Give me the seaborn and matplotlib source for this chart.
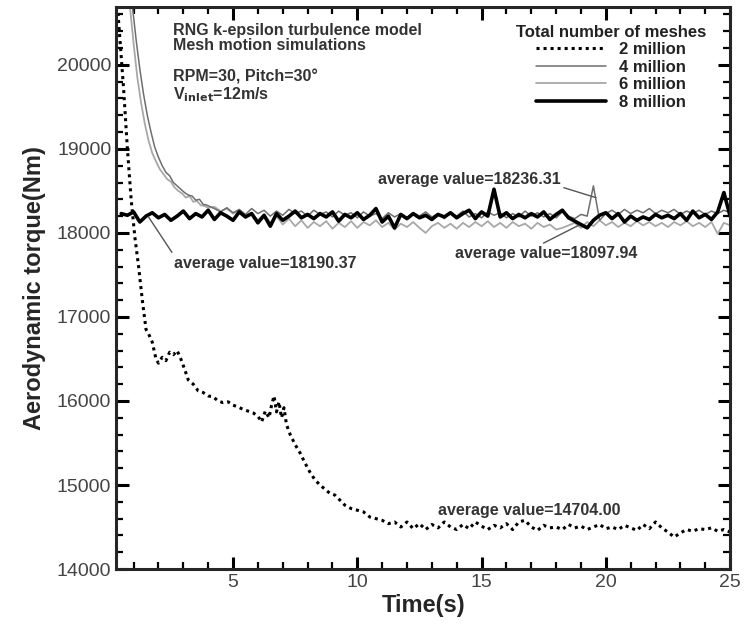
import numpy as np
import pandas as pd
import matplotlib
matplotlib.use("Agg")
import matplotlib.pyplot as plt
import seaborn as sns
from matplotlib.ticker import MultipleLocator

# ---- datos ----
series_labels = ["2 million", "4 million", "6 million", "8 million"]

# 2 millones (punteada)
t_2m = [0.3, 0.45, 0.6, 0.75, 0.9, 1.05, 1.2, 1.35, 1.5, 1.6,
        1.75, 1.9, 2.0, 2.15, 2.3, 2.45, 2.6, 2.75, 2.9, 3.05,
        3.2, 3.4, 3.6, 3.8, 4.0, 4.2, 4.4, 4.6, 4.8, 5.0,
        5.2, 5.4, 5.6, 5.8, 6.0, 6.15, 6.3, 6.45, 6.55, 6.65,
        6.75, 6.85, 6.95, 7.05, 7.15, 7.3, 7.5, 7.7, 7.9, 8.1,
        8.3, 8.5, 8.7, 8.9, 9.1, 9.3, 9.5, 9.75, 10.0, 10.25,
        10.5, 10.75, 11.0, 11.25, 11.5, 11.75, 12.0, 12.25, 12.5, 12.75,
        13.0, 13.25, 13.5, 13.75, 14.0, 14.25, 14.5, 14.75, 15.0, 15.25,
        15.5, 15.75, 16.0, 16.25, 16.5, 16.75, 17.0, 17.25, 17.5, 17.75,
        18.0, 18.25, 18.5, 18.75, 19.0, 19.25, 19.5, 19.75, 20.0, 20.25,
        20.5, 20.75, 21.0, 21.25, 21.5, 21.75, 22.0, 22.25, 22.5, 22.75,
        23.0, 23.25, 23.5, 23.75, 24.0, 24.25, 24.5, 24.75, 25.0]
torque_2m = [20900, 20300, 19700, 19000, 18400, 17950, 17600, 17200, 16850, 16800,
             16700, 16500, 16450, 16520, 16480, 16580, 16550, 16600, 16500, 16380,
             16250, 16200, 16120, 16100, 16060, 16050, 16000, 15980, 15990, 15950,
             15930, 15900, 15880, 15860, 15820, 15750, 15880, 15800, 15950, 16060,
             15870, 15990, 15800, 15920, 15720, 15600, 15480, 15380, 15260, 15150,
             15060, 15000, 14950, 14900, 14880, 14820, 14760, 14720, 14700, 14680,
             14620, 14600, 14580, 14540, 14560, 14500, 14560, 14480, 14540, 14470,
             14530, 14490, 14560, 14500, 14470, 14530, 14480, 14560, 14510, 14470,
             14520, 14490, 14540, 14470, 14560, 14580, 14500, 14460, 14520, 14490,
             14500, 14470, 14530, 14490, 14510, 14470, 14500, 14530, 14480, 14500,
             14470, 14520, 14490, 14460, 14530, 14480, 14560, 14490, 14440, 14380,
             14430, 14470, 14450, 14480, 14470, 14490, 14450, 14470, 14440]

# transitorio inicial de 4 y 6 millones
t_4m_ini = [0.95, 1.1, 1.25, 1.4, 1.55, 1.7, 1.85, 2.0, 2.15, 2.3,
            2.45, 2.6, 2.75, 2.9, 3.05, 3.2, 3.35, 3.5, 3.65, 3.8, 3.95]
torque_4m_ini = [20700, 20300, 19950, 19650, 19400, 19200, 19020, 18900, 18800, 18720,
                 18680, 18600, 18560, 18520, 18480, 18450, 18440, 18390, 18400, 18340, 18330]
t_6m_ini = [0.85, 1.0, 1.15, 1.3, 1.45, 1.6, 1.75, 1.9, 2.05, 2.2, 2.35,
            2.5, 2.65, 2.8, 2.95, 3.1, 3.25, 3.4, 3.55, 3.7, 3.85, 4.0]
torque_6m_ini = [20700, 20250, 19850, 19550, 19300, 19100, 18950, 18850, 18760, 18700, 18640,
                 18610, 18540, 18500, 18470, 18420, 18440, 18370, 18380, 18330, 18320, 18300]

# tramo estacionario 4.25 - 25 s (paso 0.25 s)
t_est = np.arange(4.25, 25.01, 0.25)
torque_4m_est = [18290, 18250, 18300, 18240, 18280, 18220, 18290, 18230, 18270, 18200,
                 18260, 18210, 18280, 18230, 18260, 18200, 18270, 18220, 18250, 18190,
                 18260, 18210, 18240, 18180, 18250, 18200, 18230, 18170, 18240, 18190,
                 18230, 18180, 18240, 18200, 18250, 18190, 18230, 18170, 18240, 18200,
                 18260, 18190, 18230, 18180, 18250, 18210, 18240, 18180, 18230, 18190,
                 18260, 18200, 18240, 18190, 18230, 18180, 18250, 18200, 18170, 18220,
                 18200, 18560, 18150, 18230, 18270, 18220, 18280, 18230, 18270, 18240,
                 18290, 18230, 18270, 18240, 18280, 18220, 18260, 18230, 18270, 18220,
                 18260, 18230, 18270, 18240]
torque_6m_est = [18310, 18260, 18290, 18230, 18270, 18180, 18240, 18150, 18220, 18120,
                 18200, 18100, 18170, 18080, 18150, 18060, 18130, 18080, 18140, 18050,
                 18120, 18070, 18140, 18060, 18130, 18090, 18150, 18070, 18120, 18040,
                 18110, 18070, 18130, 18060, 18000, 18080, 18120, 18060, 18110, 18050,
                 18120, 18070, 18130, 18080, 18140, 18070, 18120, 18060, 18130, 18080,
                 18110, 18050, 18120, 18070, 18100, 18040, 18060, 18090, 18120, 18060,
                 18130, 18080, 18150, 18090, 18130, 18070, 18120, 18080, 18140, 18090,
                 18130, 18080, 18120, 18070, 18130, 18090, 18140, 18080, 18120, 18070,
                 18130, 17990, 18120, 18090]

# 8 millones (paso 0.25 s desde 0.5 s)
t_8m = np.arange(0.5, 25.01, 0.25)
torque_8m = [18230, 18210, 18250, 18130, 18200, 18240, 18180, 18220, 18150, 18200,
             18260, 18170, 18230, 18190, 18270, 18160, 18240, 18200, 18150, 18250,
             18190, 18230, 18120, 18210, 18080, 18230, 18150, 18200, 18260, 18180,
             18220, 18170, 18230, 18190, 18250, 18140, 18220, 18180, 18240, 18160,
             18210, 18290, 18130, 18200, 18060, 18220, 18170, 18230, 18180, 18210,
             18160, 18220, 18190, 18240, 18180, 18230, 18270, 18170, 18250, 18200,
             18520, 18190, 18240, 18170, 18220, 18180, 18230, 18190, 18250, 18160,
             18220, 18270, 18180, 18140, 18100, 18060, 18150, 18210, 18240, 18170,
             18230, 18130, 18200, 18150, 18190, 18160, 18220, 18180, 18210, 18170,
             18230, 18150, 18260, 18180, 18220, 18160, 18250, 18480, 18200]

t_4m = list(t_4m_ini) + list(t_est)
torque_4m = torque_4m_ini + torque_4m_est
t_6m = list(t_6m_ini) + list(t_est)
torque_6m = torque_6m_ini + torque_6m_est


def graficar_torque():
    sns.set_theme(style="ticks")
    plt.rcParams['font.family'] = ['Liberation Sans', 'DejaVu Sans']

    fig, ax = plt.subplots(figsize=(7.45, 6.26), dpi=100)
    fig.subplots_adjust(left=0.156, right=0.980, bottom=0.091, top=0.989)

    sns.lineplot(x=t_6m, y=torque_6m, ax=ax, color="#a8a8a8", lw=1.3,
                 sort=False, estimator=None, label=series_labels[2])
    sns.lineplot(x=t_4m, y=torque_4m, ax=ax, color="#6e6e6e", lw=1.1,
                 sort=False, estimator=None, label=series_labels[1])
    sns.lineplot(x=t_8m, y=torque_8m, ax=ax, color="black", lw=2.6,
                 sort=False, estimator=None, label=series_labels[3])
    sns.lineplot(x=t_2m, y=torque_2m, ax=ax, color="black", lw=2.2,
                 linestyle=(0, (1, 1.3)), sort=False, estimator=None,
                 label=series_labels[0])

    # leyenda en el orden original
    handles, labels = ax.get_legend_handles_labels()
    orden = [labels.index(s) for s in series_labels]
    leg = ax.legend([handles[i] for i in orden], [labels[i] for i in orden],
                    title="Total number of meshes", loc="upper right",
                    bbox_to_anchor=(0.985, 0.995), frameon=False,
                    handlelength=4.2, labelspacing=0.15, handletextpad=0.8,
                    prop={'weight': 'bold', 'size': 12})
    leg.get_title().set_fontweight('bold')
    leg.get_title().set_fontsize(12)
    leg.get_title().set_color('#222222')
    for txt in leg.get_texts():
        txt.set_color('#222222')

    ax.set_xlim(0.3, 25)
    ax.set_ylim(14000, 20690)
    ax.xaxis.set_major_locator(MultipleLocator(5))
    ax.xaxis.set_minor_locator(MultipleLocator(1))
    ax.yaxis.set_major_locator(MultipleLocator(1000))
    ax.yaxis.set_minor_locator(MultipleLocator(200))
    ax.tick_params(which='both', direction='in', top=True, right=True,
                   width=1.6, colors='black', labelcolor='#444444', labelsize=14)
    ax.tick_params(which='major', length=9, width=2.2)
    ax.tick_params(which='minor', length=5)
    for sp in ax.spines.values():
        sp.set_linewidth(2.2)

    ax.set_xlabel("Time(s)", fontsize=17, fontweight='bold', labelpad=2)
    ax.set_ylabel("Aerodynamic torque(Nm)", fontsize=17, fontweight='bold', labelpad=8)

    # texto del modelo
    ax.text(2.6, 20500, "RNG k-epsilon turbulence model\nMesh motion simulations",
            fontsize=11.5, fontweight='bold', color='#333333', va='top', linespacing=1.0)
    ax.text(2.6, 19950, "RPM=30, Pitch=30°\nV$_{\\mathbf{inlet}}$=12m/s",
            fontsize=11.5, fontweight='bold', color='#333333', va='top', linespacing=1.05)

    # anotaciones de valores promedio
    txt_kw = dict(fontsize=11.5, fontweight='bold', color='#333333',
                  ha='center', va='center')
    ax.annotate("average value=18236.31", xy=(19.6, 18420), xytext=(14.5, 18640),
                arrowprops=dict(arrowstyle='-', color='#555555', lw=1.0,
                                relpos=(1.0, 0.0), shrinkA=0, shrinkB=0),
                **txt_kw)
    ax.annotate("average value=18190.37", xy=(1.6, 18190), xytext=(6.3, 17640),
                arrowprops=dict(arrowstyle='-', color='#555555', lw=1.0,
                                relpos=(0.0, 1.0), shrinkA=0, shrinkB=0),
                **txt_kw)
    ax.annotate("average value=18097.94", xy=(18.9, 18090), xytext=(17.6, 17750),
                arrowprops=dict(arrowstyle='-', color='#555555', lw=1.0,
                                relpos=(0.45, 1.0), shrinkA=0, shrinkB=0),
                **txt_kw)
    ax.text(16.9, 14700, "average value=14704.00", **txt_kw)

    fig.savefig("out.png", dpi=100)
    plt.close(fig)


if __name__ == "__main__":
    graficar_torque()
